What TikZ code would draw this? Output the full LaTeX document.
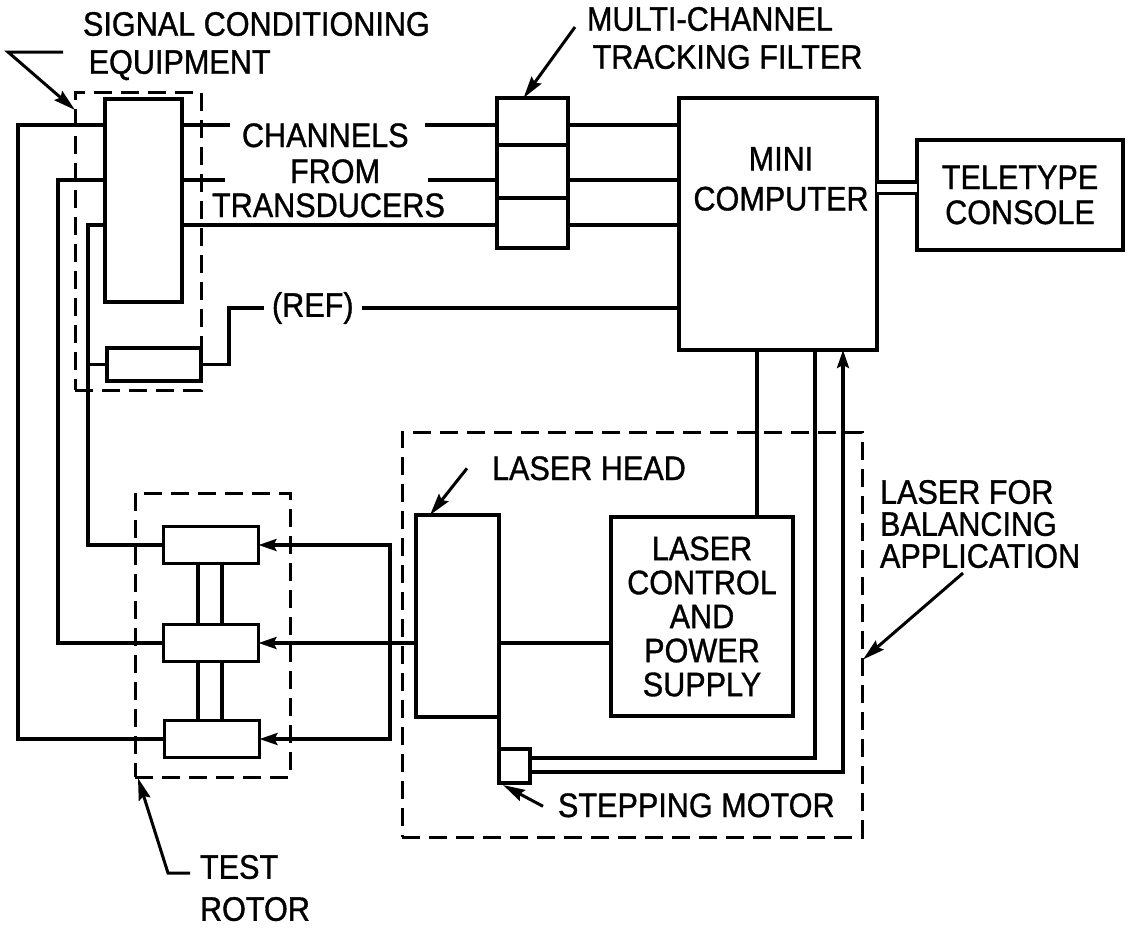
\documentclass[tikz,border=0pt]{standalone}
\usepackage{fontspec}
\newfontfamily\lettfont[FakeStretch=0.9,FakeBold=1]{Liberation Sans}
\newcommand{\lett}{\lettfont\fontsize{17pt}{18pt}\selectfont}
\usetikzlibrary{arrows.meta,positioning,calc}

\begin{document}
\begin{tikzpicture}[
    x=0.5pt, y=-0.5pt,
    node distance=0pt,
    every node/.style={outer sep=0pt},
    blk/.style={rectangle,draw,line width=1.6pt,inner sep=0pt,font=\lett,align=center},
    dbox/.style={rectangle,draw,line width=1.5pt,dash pattern=on 9pt off 4.5pt,inner sep=0pt},
    txt/.style={inner sep=0pt,font=\lett,align=left},
    wire/.style={line width=1.6pt},
    arrow/.style={wire,-{Stealth[length=9pt,width=6pt,inset=1.5pt]}},
    lead/.style={line width=1.5pt,-{Stealth[length=11pt,width=6pt,inset=1.5pt]}}
]
\useasboundingbox (0,0) rectangle (1129,933);

% dashed groups
\node[dbox,minimum width=63pt,minimum height=149pt] (sigeq) at (138,241) {};
\node[dbox,minimum width=77.5pt,minimum height=142pt] (rotbox) at (212.5,635) {};
\node[dbox,minimum width=230pt,minimum height=202.5pt] (lasbox) at (632,634.5) {};

% blocks
\node[blk,minimum width=38.5pt,minimum height=101.5pt] (scbig) at (143.5,200.5) {};
\node[blk,minimum width=47pt,minimum height=16.5pt] (scsmall) at (154,364.5) {};
\node[blk,minimum width=35.5pt,minimum height=23.5pt] (f1) at (532.5,121.5) {};
\node[blk,minimum width=35.5pt,minimum height=26.5pt,below=of f1] (f2) {};
\node[blk,minimum width=35.5pt,minimum height=25pt,below=of f2] (f3) {};
\node[blk,minimum width=99pt,minimum height=126pt] (comp) at (778,224) {};
\node[txt,align=center,anchor=north] (comptxt) at ($(comp.north)+(3,49)$) {MINI\\[2pt]COMPUTER};
\node[blk,minimum width=103pt,minimum height=55pt] (tty) at (1020,195) {TELETYPE\\[-0.5pt]CONSOLE};
\node[blk,minimum width=41.5pt,minimum height=101pt] (head) at (457.5,616) {};
\node[blk,minimum width=91pt,minimum height=99.5pt] (lctl) at (702,616.5) {LASER\\[-1pt]CONTROL\\[-1pt]AND\\[-1pt]POWER\\[-1pt]SUPPLY};
\node[blk,minimum width=15.5pt,minimum height=17pt] (motor) at (514.5,766) {};
\node[blk,minimum width=47.5pt,minimum height=18.5pt] (r1) at (211,545) {};
\node[blk,minimum width=47.5pt,minimum height=18.5pt] (r2) at (211,643) {};
\node[blk,minimum width=47.5pt,minimum height=18.5pt] (r3) at (212,739) {};

% labels
\node[txt,anchor=north west] (sigtxt) at (83,12) {SIGNAL CONDITIONING\\[1pt]\,EQUIPMENT};
\node[txt,anchor=north west] (mctxt) at (587,7) {MULTI-CHANNEL\\[1pt]\,TRACKING FILTER};
\node[txt,anchor=base west] (chtxt) at (242,147) {CHANNELS};
\node[txt,anchor=base west] (fromtxt) at (290,183) {FROM};
\node[txt,anchor=base west] (trtxt) at (212,217) {TRANSDUCERS};
\node[txt,anchor=west,inner xsep=4pt] (reftxt) at (264,308) {(REF)};
\node[txt,anchor=base west] (headtxt) at (492,480) {LASER HEAD};
\node[txt,anchor=base west] (mottxt) at (558,817) {STEPPING MOTOR};
\node[txt,anchor=north west] (lbtxt) at (880,480) {LASER FOR\\[-2pt]BALANCING\\[-2pt]APPLICATION};
\node[txt,anchor=north west] (rottxt) at (200,855) {TEST\\[3pt]ROTOR};

% channel levels
\coordinate (c1) at ($(scbig.north)+(0,26)$);
\coordinate (c2) at ($(scbig.north)+(0,81)$);
\coordinate (c3) at ($(scbig.north)+(0,126)$);

% transducer wires to the rotor
\draw[wire] (c1 -| scbig.west) -- ++(-87,0) |- (r3.west);
\draw[wire] (c2 -| scbig.west) -- ++(-47,0) |- (r2.west);
\draw[wire] (c3 -| scbig.west) -- ++(-17,0) |- (r1.west);
\draw[wire] (scsmall.west) -- ++(-19,0);

% channels into the filter and the computer
\draw[wire] (c1 -| scbig.east) -- ++(48,0);
\draw[wire] (c1 -| f1.west) -- ++(-72,0);
\draw[wire] (c2 -| scbig.east) -- ++(43,0);
\draw[wire] (c2 -| f2.west) -- ++(-69,0);
\draw[wire] (c3 -| scbig.east) -- (c3 -| f3.west);
\draw[wire] (c1 -| f1.east) -- (c1 -| comp.west);
\draw[wire] (c2 -| f2.east) -- (c2 -| comp.west);
\draw[wire] (c3 -| f3.east) -- (c3 -| comp.west);
\draw[wire] (scsmall.east) -- ++(28,0) |- (reftxt.west);
\draw[wire] (reftxt.east) -- (reftxt.east -| comp.west);
\draw[wire,double,double distance=4pt] ($(tty.west)+(0,-7.5)$) -- ($(comp.east |- tty.west)+(0,-7.5)$);

% laser side
\coordinate (cw) at ($(lctl.north)+(55,0)$);
\draw[wire] (cw) -- (cw |- comp.south);
\draw[wire] ($(motor.east)+(0,-8)$) -- ++(285,0) coordinate (m1) -- (m1 |- comp.south);
\draw[arrow] ($(motor.east)+(0,6)$) -- ++(313,0) coordinate (m2) -- (m2 |- comp.south);
\draw[wire] (head.south east) -- (motor.north west);
\draw[wire] (head.east |- r2.east) -- (lctl.west |- r2.east);
\draw[arrow] (head.west |- r2.east) -- (r2.east);
\coordinate (split) at (390,643);
\draw[arrow] (split) |- (r1.east);
\draw[arrow] (split) |- (r3.east);

% rotor shafts
\draw[wire] ($(r1.south)+(-13,0)$) -- ($(r2.north)+(-13,0)$);
\draw[wire] ($(r1.south)+(11,0)$) -- ($(r2.north)+(11,0)$);
\draw[wire] ($(r2.south)+(-13,0)$) -- ($(r3.north)+(-14,0)$);
\draw[wire] ($(r2.south)+(11,0)$) -- ($(r3.north)+(10,0)$);

% leaders
\draw[lead] ($(sigtxt.north west)+(-20,40)$) -- ++(-55,0) -- ($(sigeq.north west)+(0,18)$);
\draw[lead] ($(mctxt.north west)+(-12,20)$) -- ($(f1.north)+(-9,0)$);
\draw[lead] ($(headtxt.west)+(-25,0)$) -- ($(head.north west)+(14,0)$);
\draw[lead] ($(mottxt.west)+(-15,1)$) -- ($(motor.south west)+(4,2)$);
\draw[lead] ($(lbtxt.south west)+(83,5)$) -- ($(lasbox.east)+(1,25)$);
\draw[lead] ($(rottxt.north west)+(-10,18)$) -- ++(-22,0) -- ($(rotbox.south west)+(3,1)$);
\end{tikzpicture}
\end{document}
